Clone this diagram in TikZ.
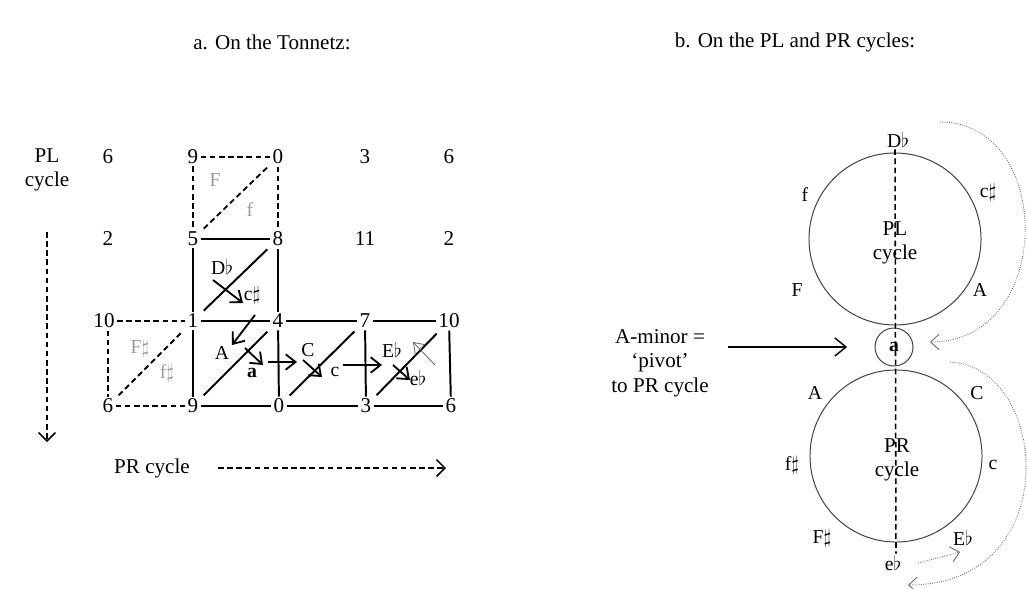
\documentclass[tikz,border=0pt]{standalone}
\usepackage{fontspec}
\setmainfont{Liberation Serif}
\usetikzlibrary{arrows.meta, calc}

\begin{document}
\begin{tikzpicture}[
        x=0.025cm, y=-0.025cm,
        font=\fontsize{15}{17.5}\selectfont,
        pc/.style={inner sep=1.5pt},
        triad/.style={inner sep=1pt, font=\fontsize{14}{16}\selectfont},
        ghost/.style={triad, text=black!40},
        edge/.style={line width=1.4pt},
        ghostedge/.style={line width=1.3pt, dash pattern=on 4pt off 2.5pt},
        diag/.style={edge, shorten <=3pt, shorten >=3pt},
        ghostdiag/.style={ghostedge, shorten <=3pt, shorten >=3pt},
        move/.style={line width=1.3pt, -{Straight Barb[length=7pt, width=11pt]}},
        backmove/.style={line width=0.6pt, draw=black!60, -{Straight Barb[length=7pt, width=10pt]}},
        cycarrow/.style={line width=1.1pt, dash pattern=on 4pt off 2.5pt, -{Straight Barb[length=6pt, width=12pt]}},
        ring/.style={circle, draw=black!75, line width=0.7pt, minimum size=4.3cm, align=center},
        hop/.style={draw=black!60, densely dotted, line width=0.6pt, -{Straight Barb[length=6pt, width=11pt]}},
        pointer/.style={line width=1pt, -{Straight Barb[length=8pt, width=13pt]}}
    ]
        \useasboundingbox (0,0) rectangle (1027,588);

        % Titles
        \node (titlea) at (272,42) {a. On the Tonnetz:};
        \node (titleb) at (795,42) {b. On the PL and PR cycles:};

        % Tonnetz pitch classes
        \node[pc] (t11) at (108,157) {6};
        \node[pc] (t12) at (193,157) {9};
        \node[pc] (t13) at (278,157) {0};
        \node[pc] (t14) at (365,157) {3};
        \node[pc] (t15) at (449,157) {6};
        \node[pc] (t21) at (108,239) {2};
        \node[pc] (t22) at (193,239) {5};
        \node[pc] (t23) at (278,239) {8};
        \node[pc] (t24) at (365,239) {11};
        \node[pc] (t25) at (449,239) {2};
        \node[pc] (t31) at (104,321) {10};
        \node[pc] (t32) at (193,321) {1};
        \node[pc] (t33) at (278,321) {4};
        \node[pc] (t34) at (365,321) {7};
        \node[pc] (t35) at (449,321) {10};
        \node[pc] (t41) at (108,406) {6};
        \node[pc] (t42) at (193,406) {9};
        \node[pc] (t43) at (279,406) {0};
        \node[pc] (t44) at (366,406) {3};
        \node[pc] (t45) at (451,406) {6};

        % Solid triangle edges
        \draw[edge] (t22) -- (t23);
        \draw[edge] (t22) -- (t32);
        \draw[edge] (t23) -- (t33);
        \draw[edge] (t32) -- (t33);
        \draw[edge] (t33) -- (t34);
        \draw[edge] (t34) -- (t35);
        \draw[edge] (t32) -- (t42);
        \draw[edge] (t33) -- (t43);
        \draw[edge] (t34) -- (t44);
        \draw[edge] (t35) -- (t45);
        \draw[edge] (t42) -- (t43);
        \draw[edge] (t43) -- (t44);
        \draw[edge] (t44) -- (t45);
        \draw[diag] (t32) -- (t23);
        \draw[diag] (t42) -- (t33);
        \draw[diag] (t43) -- (t34);
        \draw[diag] (t44) -- (t35);

        % Dashed (unvisited) edges
        \draw[ghostedge] (t12) -- (t13);
        \draw[ghostedge] (t12) -- (t22);
        \draw[ghostedge] (t13) -- (t23);
        \draw[ghostdiag] (t22) -- (t13);
        \draw[ghostedge] (t31) -- (t32);
        \draw[ghostedge] (t31.south -| t41.north) -- (t41.north);
        \draw[ghostedge] (t41) -- (t42);
        \draw[ghostdiag] (t41) -- (t32);

        % Triads on the Tonnetz
        \node[ghost] (gF) at (215,180) {F};
        \node[ghost] (gf) at (250,210) {f};
        \node[ghost] (gFs) at (140,348) {F$\sharp$};
        \node[ghost] (gfs) at (167,373) {f$\sharp$};
        \node[triad] (Db) at (222,267) {D$\flat$};
        \node[triad] (cs) at (252,295) {c$\sharp$};
        \node[triad] (A) at (222,353) {A};
        \node[triad, font=\bfseries\fontsize{14}{16}\selectfont] (a) at (252,373) {a};
        \node[triad] (C) at (308,350) {C};
        \node[triad] (c) at (335,372) {c};
        \node[triad] (Eb) at (392,350) {E$\flat$};
        \node[triad] (eb) at (418,378) {e$\flat$};

        % Moves
        \draw[move] ([shift={(-9,13)}]Db.center) -- ([shift={(-9,8)}]cs.center);
        \draw[move] ([shift={(3,20)}]cs.center) -- ([shift={(10,-8)}]A.center);
        \draw[move] ([shift={(23,-5)}]A.center) -- ([shift={(11,-8)}]a.center);
        \draw[move] ([shift={(16,-11)}]a.center) -- ([shift={(-11,12)}]C.center);
        \draw[move] ([shift={(-5,10)}]C.center) -- ([shift={(-13,5)}]c.center);
        \draw[move] ([shift={(8,-7)}]c.center) -- ([shift={(-10,15)}]Eb.center);
        \draw[move] ([shift={(1,15)}]Eb.center) -- ([shift={(-8,2)}]eb.center);
        \draw[backmove] ([shift={(17,-13)}]eb.center) -- ([shift={(21,-8)}]Eb.center);

        % Cycle directions
        \node[align=center] (plcyc) at (47,170) {PL\\cycle};
        \coordinate (plend) at (47,442);
        \draw[cycarrow] ([shift={(0,62)}]plcyc.center) -- (plend);
        \node (prcyc) at (152,468) {PR cycle};
        \coordinate (prend) at (446,468);
        \draw[cycarrow] ([shift={(66,0)}]prcyc.center) -- (prend);

        % PL and PR cycles
        \node[ring] (plc) at (895,239) {};
        \node[align=center] (pltxt) at (895,243) {PL\\cycle};
        \node[ring] (prc) at (896,456) {};
        \node[align=center] (prtxt) at (897,460) {PR\\cycle};
        \node[circle, draw=black!75, line width=0.7pt, minimum size=0.95cm, inner sep=0pt, font=\bfseries\fontsize{14}{16}\selectfont] (pivot) at (894,347) {a};

        \node[triad] (DbL) at (898,140) {D$\flat$};
        \node[triad] (fL) at (805,195) {f};
        \node[triad] (csL) at (988,192) {c$\sharp$};
        \node[triad] (FL) at (797,290) {F};
        \node[triad] (AL) at (980,290) {A};
        \node[triad] (AR) at (815,393) {A};
        \node[triad] (CR) at (977,393) {C};
        \node[triad] (fsR) at (792,465) {f$\sharp$};
        \node[triad] (cR) at (993,465) {c};
        \node[triad] (FsR) at (822,538) {F$\sharp$};
        \node[triad] (EbR) at (963,538) {E$\flat$};
        \node[triad] (ebR) at (893,563) {e$\flat$};

        \draw[ghostedge, line width=1.1pt] (plc.north |- DbL.south) -- (prc.south |- ebR.north);

        % Pivot
        \node[align=center] (pivtxt) at (660,363) {A-minor =\\`pivot'\\to PR cycle};
        \draw[pointer, shorten <=10.5pt, shorten >=19.5pt] (pivtxt.east |- pivot.west) -- (pivot.west);

        % Jumps between the cycles
        \draw[hop] ([shift={(42,-18)}]DbL.center) .. controls +(115,0) and +(125,0) .. ([shift={(36,-5)}]pivot.center);
        \draw[hop] ([shift={(56,15)}]pivot.center) .. controls +(100,5) and +(158,0) .. ([shift={(15,22)}]ebR.center);
        \draw[hop] ([shift={(25,0)}]ebR.center) -- ([shift={(-3,14)}]EbR.center);

    \end{tikzpicture}
\end{document}
